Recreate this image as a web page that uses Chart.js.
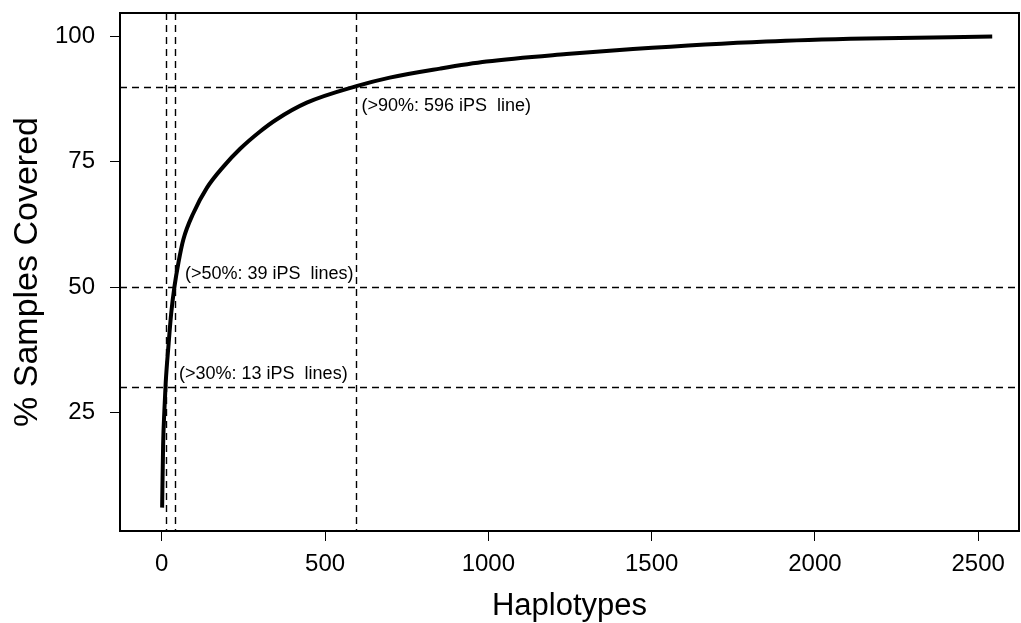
<!DOCTYPE html>
<html>
<head>
<meta charset="utf-8">
<script src="https://cdn.jsdelivr.net/npm/chart.js@4/dist/chart.umd.min.js"></script>
<style>
  html, body { margin: 0; padding: 0; background: #fff; }
  #wrap { width: 1021px; height: 623px; }
</style>
</head>
<body>
<div id="wrap"><canvas id="chart" width="1021" height="623"></canvas></div>
<script>
// Coverage curve
const haplotypes = [1, 4, 8, 12, 21, 29, 39, 51, 66, 97, 138, 188, 240, 300, 350, 444, 596, 698, 852, 994, 1239, 1443, 1851, 2157, 2543];
const coverage = [6.0, 18.3, 25.5, 31.0, 38.8, 44.9, 50.2, 54.9, 59.5, 64.8, 69.8, 74.0, 77.6, 81.0, 83.4, 86.8, 90.1, 91.8, 93.6, 95.0, 96.5, 97.5, 99.0, 99.6, 100];

// Threshold reference lines
const thresholdPct = [30, 50, 90];
const thresholdLines = [13, 39, 596];
const thresholdLabels = ['(>30%: 13 iPS  lines)', '(>50%: 39 iPS  lines)', '(>90%: 596 iPS  line)'];

const xTicks = [0, 500, 1000, 1500, 2000, 2500];
const yTicks = [25, 50, 75, 100];

const FONT = "'Liberation Sans', Arial, Helvetica, sans-serif";

// box, dashed guides and their notes
const guides = {
  id: 'guides',
  beforeDatasetsDraw(chart) {
    const { ctx, chartArea: a, scales: { x, y } } = chart;
    ctx.save();
    ctx.strokeStyle = '#000';
    ctx.lineWidth = 1.4;
    ctx.setLineDash([7, 5]);
    thresholdPct.forEach((p) => {
      const py = Math.round(y.getPixelForValue(p)) + 0.5;
      ctx.beginPath();
      ctx.moveTo(a.left, py);
      ctx.lineTo(a.right, py);
      ctx.stroke();
    });
    thresholdLines.forEach((n) => {
      const px = Math.round(x.getPixelForValue(n)) + 0.5;
      ctx.beginPath();
      ctx.moveTo(px, a.top);
      ctx.lineTo(px, a.bottom);
      ctx.stroke();
    });
    ctx.restore();
  },
  afterDatasetsDraw(chart) {
    const { ctx, chartArea: a, scales: { x, y } } = chart;
    const offsets = [[13, -13], [10.5, -12.6], [5, 19]];
    ctx.save();
    ctx.fillStyle = '#000';
    ctx.font = '18px ' + FONT;
    ctx.textAlign = 'left';
    ctx.textBaseline = 'middle';
    thresholdLabels.forEach((t, i) => {
      const px = x.getPixelForValue(thresholdLines[i]) + offsets[i][0];
      const py = y.getPixelForValue(thresholdPct[i]) + offsets[i][1];
      ctx.fillText(t, px, py);
    });
    ctx.strokeStyle = '#000';
    ctx.lineWidth = 2;
    ctx.setLineDash([]);
    ctx.strokeRect(a.left, a.top, a.right - a.left, a.bottom - a.top);
    ctx.restore();
  }
};

const ctx = document.getElementById('chart').getContext('2d');
new Chart(ctx, {
  type: 'line',
  data: {
    datasets: [{
      data: haplotypes.map((h, i) => ({ x: h, y: coverage[i] })),
      borderColor: '#000',
      borderWidth: 4,
      borderCapStyle: 'butt',
      pointRadius: 0,
      fill: false,
      cubicInterpolationMode: 'monotone'
    }]
  },
  options: {
    responsive: false,
    animation: false,
    layout: { padding: { top: 13, right: 2, left: 0, bottom: 0 } },
    plugins: { legend: { display: false }, tooltip: { enabled: false } },
    scales: {
      x: {
        type: 'linear',
        min: -128,
        max: 2625,
        afterBuildTicks: (s) => { s.ticks = xTicks.map((v) => ({ value: v })); },
        afterFit: (s) => { s.height = 92; s.paddingLeft = 0; s.paddingRight = 0; },
        grid: { drawOnChartArea: false, drawTicks: true, tickLength: 10, color: '#000', lineWidth: 1 },
        border: { display: false },
        ticks: { color: '#000', font: { family: FONT, size: 24 }, padding: 9, maxRotation: 0, autoSkip: false, callback: (v) => String(v) },
        title: { display: true, text: 'Haplotypes', color: '#000', font: { family: FONT, size: 31, lineHeight: 1 }, padding: { top: 0, bottom: 1.5 } }
      },
      y: {
        min: 1.33,
        max: 104.7,
        afterBuildTicks: (s) => { s.ticks = yTicks.map((v) => ({ value: v })); },
        afterFit: (s) => { s.width = 120; s.paddingTop = 0; s.paddingBottom = 0; },
        grid: { drawOnChartArea: false, drawTicks: true, tickLength: 10, color: '#000', lineWidth: 1 },
        border: { display: false },
        ticks: { color: '#000', font: { family: FONT, size: 24 }, padding: 15, autoSkip: false, callback: (v) => String(v) },
        title: { display: true, text: '% Samples Covered', color: '#000', font: { family: FONT, size: 34, lineHeight: 1 }, padding: { top: 11, bottom: 0 } }
      }
    }
  },
  plugins: [guides]
});
</script>
</body>
</html>
